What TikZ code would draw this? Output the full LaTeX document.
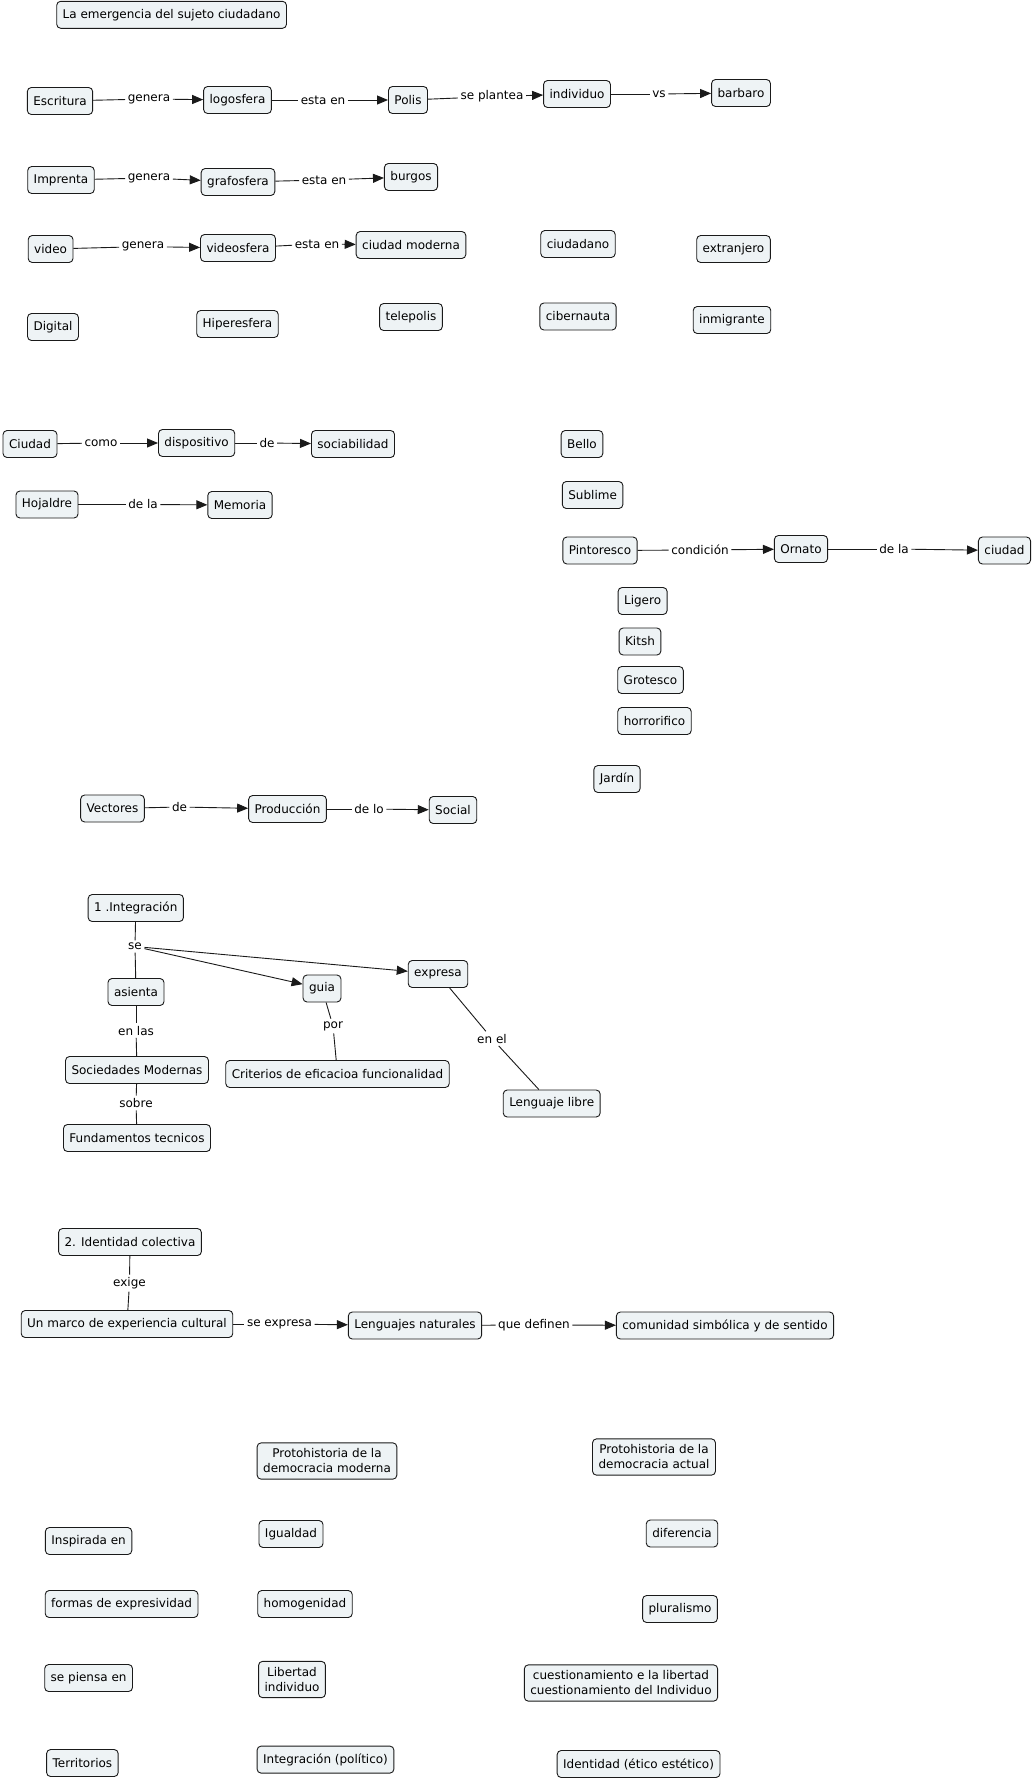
\documentclass[tikz,border=0pt]{standalone}
\usepackage{fontspec}
\setmainfont{DejaVu Sans}
\usetikzlibrary{arrows.meta}
\definecolor{cfill}{HTML}{EEF3F5}
\definecolor{cline}{HTML}{1A1A1A}
\tikzset{
  concept/.style={draw=cline,rounded corners=1.4mm,fill=cfill,align=center,inner xsep=6pt,inner ysep=3pt,minimum height=27pt,line width=0.9pt,font=\fontsize{12}{15}\selectfont},
  twoline/.style={concept,inner ysep=6pt},
  linkw/.style={inner sep=2.5pt,fill=white,font=\fontsize{12}{14.5}\selectfont},
  ln/.style={line width=0.9pt,draw=cline},
  arr/.style={ln,-{Triangle[length=11pt,width=9pt]}}
}
\begin{document}
\begin{tikzpicture}[x=1pt,y=-1pt]
  \useasboundingbox[fill=white] (0,0) rectangle (1034,1781);
  % titulo
  \node[concept] (title) at (171.6,14.8) {La emergencia del sujeto ciudadano};
  % esferas
  \node[concept] (escritura) at (60,101) {Escritura};
  \node[concept] (logos) at (237.5,100) {logosfera};
  \node[concept] (polis) at (408,100) {Polis};
  \node[concept] (indiv) at (577,94) {individuo};
  \node[concept] (barbaro) at (741,93) {barbaro};
  \node[linkw] (gen1) at (149,99) {genera};
  \node[linkw] (esta1) at (323,100) {esta en};
  \node[linkw] (plantea) at (492,96.6) {se plantea};
  \node[linkw] (vs) at (659,94) {vs};
  \draw[ln] (escritura) -- (gen1);
  \draw[arr] (gen1) -- (logos);
  \draw[ln] (logos) -- (esta1);
  \draw[arr] (esta1) -- (polis);
  \draw[ln] (polis) -- (plantea);
  \draw[arr] (plantea) -- (indiv);
  \draw[ln] (indiv) -- (vs);
  \draw[arr] (vs) -- (barbaro);

  \node[concept] (imprenta) at (61,180) {Imprenta};
  \node[concept] (grafo) at (238,182) {grafosfera};
  \node[concept] (burgos) at (411,177) {burgos};
  \node[linkw] (gen2) at (149,178) {genera};
  \node[linkw] (esta2) at (324,180) {esta en};
  \draw[ln] (imprenta) -- (gen2);
  \draw[arr] (gen2) -- (grafo);
  \draw[ln] (grafo) -- (esta2);
  \draw[arr] (esta2) -- (burgos);

  \node[concept] (video) at (50.6,249) {video};
  \node[concept] (videos) at (238,248) {videosfera};
  \node[concept] (cmoderna) at (411,245) {ciudad moderna};
  \node[concept] (ciudadano) at (578,244) {ciudadano};
  \node[concept] (extranjero) at (733.5,249) {extranjero};
  \node[linkw] (gen3) at (143,246.6) {genera};
  \node[linkw] (esta3) at (317,244) {esta en};
  \draw[ln] (video) -- (gen3);
  \draw[arr] (gen3) -- (videos);
  \draw[ln] (videos) -- (esta3);
  \draw[arr] (esta3) -- (cmoderna);

  \node[concept] (digital) at (53,327) {Digital};
  \node[concept] (hiper) at (237.5,324) {Hiperesfera};
  \node[concept] (telepolis) at (411,317) {telepolis};
  \node[concept] (ciber) at (578,316.5) {cibernauta};
  \node[concept] (inmigrante) at (732,320) {inmigrante};

  % ciudad
  \node[concept] (ciudad) at (30,444) {Ciudad};
  \node[concept] (dispos) at (196.6,443) {dispositivo};
  \node[concept] (sociab) at (353,444) {sociabilidad};
  \node[linkw] (como) at (101,443) {como};
  \node[linkw] (de1) at (267,443) {de};
  \draw[ln] (ciudad) -- (como);
  \draw[arr] (como) -- (dispos);
  \draw[ln] (dispos) -- (de1);
  \draw[arr] (de1) -- (sociab);

  \node[concept] (hojaldre) at (47,504.5) {Hojaldre};
  \node[concept] (memoria) at (240,505) {Memoria};
  \node[linkw] (dela1) at (143,504.5) {de la};
  \draw[ln] (hojaldre) -- (dela1);
  \draw[arr] (dela1) -- (memoria);

  % estetica
  \node[concept] (bello) at (582,444) {Bello};
  \node[concept] (sublime) at (592.6,495) {Sublime};
  \node[concept] (pinto) at (600,550.5) {Pintoresco};
  \node[concept] (ornato) at (801,549) {Ornato};
  \node[concept] (ciudad2) at (1004.5,550.5) {ciudad};
  \node[linkw] (cond) at (700,550) {condición};
  \node[linkw] (dela2) at (894,549) {de la};
  \draw[ln] (pinto) -- (cond);
  \draw[arr] (cond) -- (ornato);
  \draw[ln] (ornato) -- (dela2);
  \draw[arr] (dela2) -- (ciudad2);
  \node[concept] (ligero) at (642.6,601) {Ligero};
  \node[concept] (kitsh) at (640,641.5) {Kitsh};
  \node[concept] (grotesco) at (650.5,680) {Grotesco};
  \node[concept] (horror) at (654.5,721) {horrorifico};
  \node[concept] (jardin) at (617,779) {Jardín};

  % vectores
  \node[concept] (vectores) at (112.5,808.5) {Vectores};
  \node[concept] (produc) at (287.5,809) {Producción};
  \node[concept] (social) at (453,810) {Social};
  \node[linkw] (de2) at (179.5,807) {de};
  \node[linkw] (delo) at (369,809) {de lo};
  \draw[ln] (vectores) -- (de2);
  \draw[arr] (de2) -- (produc);
  \draw[ln] (produc) -- (delo);
  \draw[arr] (delo) -- (social);

  % integracion
  \node[concept] (integ) at (135.8,908) {1 .Integración};
  \node[linkw] (se) at (135,946.5) {se};
  \node[concept] (asienta) at (136,992) {asienta};
  \node[concept] (guia) at (322,988.5) {guia};
  \node[concept] (expresa) at (438,974) {expresa};
  \node[linkw] (enlas) at (136,1030.6) {en las};
  \node[concept] (socmod) at (137,1070) {Sociedades Modernas};
  \node[linkw] (sobre) at (136,1103) {sobre};
  \node[concept] (fundam) at (137,1138) {Fundamentos tecnicos};
  \node[linkw] (por) at (333,1026) {por};
  \node[concept] (criterios) at (337.5,1074) {Criterios de eficacioa funcionalidad};
  \node[linkw] (enel) at (492,1038.6) {en el};
  \node[concept] (lengl) at (551.7,1103.5) {Lenguaje libre};
  \draw[ln] (integ) -- (se);
  \draw[ln] (se) -- (asienta);
  \draw[arr] (se) -- (guia);
  \draw[arr] (se) -- (expresa);
  \draw[ln] (asienta) -- (enlas);
  \draw[ln] (enlas) -- (socmod);
  \draw[ln] (socmod) -- (sobre);
  \draw[ln] (sobre) -- (fundam);
  \draw[ln] (guia) -- (por);
  \draw[ln] (por) -- (criterios);
  \draw[ln] (expresa) -- (enel);
  \draw[ln] (enel) -- (lengl);

  % identidad
  \node[concept] (ident) at (130,1242) {2. Identidad colectiva};
  \node[linkw] (exige) at (129.5,1283) {exige};
  \node[concept] (marco) at (127,1324) {Un marco de experiencia cultural};
  \node[linkw] (seexp) at (279.5,1324) {se expresa};
  \node[concept] (lengn) at (415,1325.5) {Lenguajes naturales};
  \node[linkw] (qdef) at (534,1325) {que definen};
  \node[concept] (comun) at (725,1325.5) {comunidad simbólica y de sentido};
  \draw[ln] (ident) -- (exige);
  \draw[ln] (exige) -- (marco);
  \draw[ln] (marco) -- (seexp);
  \draw[arr] (seexp) -- (lengn);
  \draw[ln] (lengn) -- (qdef);
  \draw[arr] (qdef) -- (comun);

  % democracia
  \node[twoline] (protomod) at (327,1461) {Protohistoria de la\\democracia moderna};
  \node[twoline] (protoact) at (654,1457) {Protohistoria de la\\democracia actual};
  \node[concept] (inspirada) at (88.6,1541) {Inspirada en};
  \node[concept] (igualdad) at (291,1534) {Igualdad};
  \node[concept] (diferencia) at (682,1533.5) {diferencia};
  \node[concept] (formas) at (121.6,1604) {formas de expresividad};
  \node[concept] (homog) at (305,1604) {homogenidad};
  \node[concept] (plural) at (680,1609) {pluralismo};
  \node[concept] (piensa) at (88.6,1678) {se piensa en};
  \node[twoline] (libertad) at (292,1679.5) {Libertad\\individuo};
  \node[twoline] (cuestion) at (621,1683) {cuestionamiento e la libertad\\cuestionamiento del Individuo};
  \node[concept] (territ) at (82.4,1763) {Territorios};
  \node[concept] (integpol) at (325.5,1759.6) {Integración (político)};
  \node[concept] (identet) at (638.6,1764) {Identidad (ético estético)};
\end{tikzpicture}
\end{document}
